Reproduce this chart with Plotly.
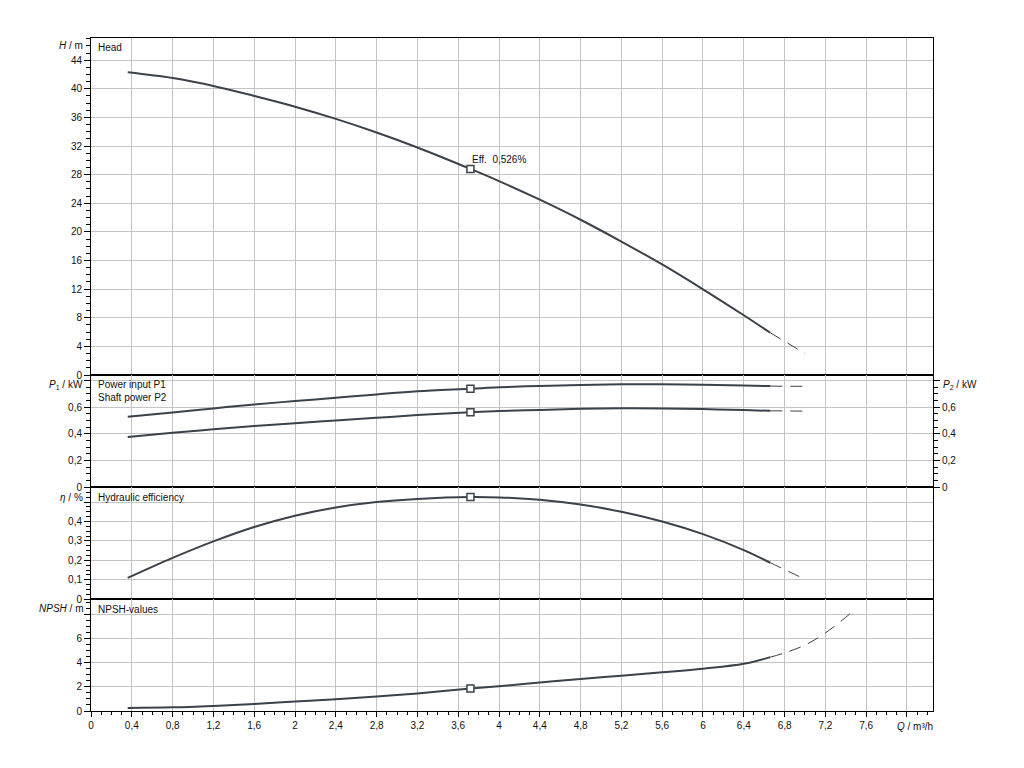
import plotly.graph_objects as go

# ---------------- data ----------------
Q = [0.36, 0.8, 1.2, 1.6, 2.0, 2.4, 2.8, 3.2, 3.72, 4.0, 4.4, 4.8, 5.2, 5.6, 6.0, 6.4, 6.66]
head = [42.3, 41.5, 40.4, 39.0, 37.5, 35.8, 33.9, 31.8, 28.8, 27.1, 24.5, 21.7, 18.65, 15.45, 11.98, 8.35, 5.9]
p1 = [0.528, 0.56, 0.59, 0.62, 0.645, 0.67, 0.695, 0.718, 0.737, 0.748, 0.758, 0.766, 0.770, 0.770, 0.767, 0.762, 0.757]
p2 = [0.376, 0.408, 0.434, 0.458, 0.48, 0.50, 0.52, 0.54, 0.562, 0.57, 0.579, 0.587, 0.591, 0.59, 0.585, 0.578, 0.572]
eff = [0.110, 0.213, 0.298, 0.372, 0.430, 0.472, 0.500, 0.516, 0.526, 0.524, 0.512, 0.487, 0.450, 0.400, 0.335, 0.253, 0.188]
npsh = [0.25, 0.3, 0.42, 0.58, 0.78, 0.98, 1.2, 1.45, 1.85, 2.05, 2.35, 2.65, 2.92, 3.2, 3.5, 3.9, 4.45]

Q_ext = [6.66, 7.0]
head_ext = [5.9, 3.0]
p1_ext = [0.757, 0.755]
p2_ext = [0.572, 0.57]
eff_ext = [0.188, 0.103]
Q_npsh_ext = [6.66, 6.8, 7.0, 7.2, 7.48]
npsh_ext = [4.45, 4.8, 5.45, 6.45, 8.3]

Q_op = 3.72
head_op, p1_op, p2_op, eff_op, npsh_op = 28.8, 0.737, 0.562, 0.526, 1.85

x_ticks = [round(0.4 * i, 1) for i in range(21)]
x_labels = [("%g" % v).replace(".", ",") for v in x_ticks[:-1]] + [""]
head_ticks = list(range(0, 48, 4))
p_ticks = [0, 0.2, 0.4, 0.6, 0.8]
p_labels = ["0", "0,2", "0,4", "0,6", ""]
eff_ticks = [0, 0.1, 0.2, 0.3, 0.4, 0.5]
eff_labels = ["0", "0,1", "0,2", "0,3", "0,4", ""]
npsh_ticks = [0, 2, 4, 6, 8]
npsh_labels = ["0", "2", "4", "6", ""]

# ---------------- layout helpers ----------------
OFF = 8                      # default page body margin
W, H = 1000, 748
L, R, T, B = 91, 933, 38, 711   # plot area in page pixels
def px_x(px):
    return (px - L) / (R - L)
def px_y(py):
    return (B - py) / (B - T)

LINE = "#3b424a"
FONT = "Arial, Liberation Sans, sans-serif"

fig = go.Figure()

def solid(x, y, xa, ya):
    fig.add_trace(go.Scatter(x=x, y=y, mode="lines", xaxis=xa, yaxis=ya,
                             line=dict(color=LINE, width=2, shape="spline", smoothing=1.0),
                             showlegend=False, hoverinfo="skip"))

def dashed(x, y, xa, ya):
    fig.add_trace(go.Scatter(x=x, y=y, mode="lines", xaxis=xa, yaxis=ya,
                             line=dict(color=LINE, width=1, dash="12px,8px", shape="spline"),
                             showlegend=False, hoverinfo="skip"))

def marker(x, y, xa, ya):
    fig.add_trace(go.Scatter(x=[x], y=[y], mode="markers", xaxis=xa, yaxis=ya,
                             marker=dict(symbol="square", size=7, color="white",
                                         line=dict(color=LINE, width=1.5)),
                             showlegend=False, hoverinfo="skip"))

solid(Q, head, "x", "y"); dashed(Q_ext, head_ext, "x", "y"); marker(Q_op, head_op, "x", "y")
solid(Q, p1, "x2", "y2"); dashed(Q_ext, p1_ext, "x2", "y2"); marker(Q_op, p1_op, "x2", "y2")
solid(Q, p2, "x2", "y2"); dashed(Q_ext, p2_ext, "x2", "y2"); marker(Q_op, p2_op, "x2", "y2")
solid(Q, eff, "x3", "y3"); dashed(Q_ext, eff_ext, "x3", "y3"); marker(Q_op, eff_op, "x3", "y3")
solid(Q, npsh, "x4", "y4"); dashed(Q_npsh_ext, npsh_ext, "x4", "y4"); marker(Q_op, npsh_op, "x4", "y4")

GRID = "#c4c4c4"
tickfont = dict(family=FONT, size=10, color="#111111")

def xaxis(anchor, show):
    d = dict(anchor=anchor, range=[0, 8.255], domain=[0, 1],
             tickmode="array", tickvals=x_ticks, ticktext=x_labels,
             showgrid=True, gridcolor=GRID, gridwidth=1, zeroline=False,
             showline=True, linecolor="black", linewidth=1, mirror=True,
             tickfont=tickfont)
    if show:
        d.update(ticks="outside", ticklen=5, tickcolor="black", showticklabels=True,
                 minor=dict(tickmode="linear", tick0=0, dtick=0.1, ticks="outside",
                            ticklen=3, tickcolor="black", showgrid=False))
    else:
        d.update(ticks="", showticklabels=False, matches="x4")
    return d

def yaxis(anchor, dom, rng, vals, labels, mdt, side="left", overlaying=None, grid=True):
    d = dict(anchor=anchor, domain=dom, range=rng, side=side,
             tickmode="array", tickvals=vals, ticktext=labels,
             showgrid=grid, gridcolor=GRID, gridwidth=1, zeroline=False,
             showline=True, linecolor="black", linewidth=1, mirror=True,
             ticks="outside", ticklen=6, tickcolor="black", tickfont=tickfont,
             minor=dict(tickmode="linear", tick0=0, dtick=mdt, ticks="outside",
                        ticklen=4, tickcolor="black", showgrid=False))
    if overlaying:
        d["overlaying"] = overlaying
        d["mirror"] = False
    return d

d_head = [px_y(375), 1]
d_pow = [px_y(487.3), px_y(375)]
d_eff = [px_y(599.3), px_y(487.3)]
d_npsh = [0, px_y(599.3)]

annotations = []
def label(text, px, py, xanchor="left", size=10):
    annotations.append(dict(text=text, x=px_x(px), y=px_y(py), xref="paper", yref="paper",
                            xanchor=xanchor, yanchor="middle", showarrow=False,
                            font=dict(family=FONT, size=size, color="#111111")))

label("<i>H</i> / m", 85, 46, "right")
label("<i>P</i><sub>1</sub> / kW", 85, 385.5, "right")
label("<i>η</i> / %", 85, 497, "right")
label("<i>NPSH</i> / m", 85, 608.5, "right")
label("<i>P</i><sub>2</sub> / kW", 941, 385.5, "left")
label("<i>Q</i> / m³/h", 935, 726, "right")
label("Head", 96, 48)
label("Power input P1", 96, 385)
label("Shaft power P2", 96, 397)
label("Hydraulic efficiency", 96, 497)
label("NPSH-values", 96, 609)
annotations.append(dict(text="Eff.&nbsp;&nbsp;0,526%", x=Q_op, y=head_op, xref="x", yref="y",
                        xanchor="left", yanchor="bottom", xshift=0, yshift=2, showarrow=False,
                        font=dict(family=FONT, size=10, color="#111111")))

fig.update_layout(
    width=W, height=H,
    margin=dict(l=L - OFF, r=W - (R - OFF), t=T - OFF, b=H - (B - OFF), pad=0),
    paper_bgcolor="white", plot_bgcolor="white",
    showlegend=False,
    font=dict(family=FONT, size=10, color="#111111"),
    xaxis=xaxis("y", False),
    xaxis2=xaxis("y2", False),
    xaxis3=xaxis("y3", False),
    xaxis4=xaxis("y4", True),
    yaxis=yaxis("x", d_head, [0, 47.1], head_ticks, [str(v) for v in head_ticks], 1),
    yaxis2=yaxis("x2", d_pow, [0, 0.84], p_ticks, p_labels, 0.05),
    yaxis3=yaxis("x3", d_eff, [0, 0.576], eff_ticks, eff_labels, 0.025),
    yaxis4=yaxis("x4", d_npsh, [0, 9.23], npsh_ticks, npsh_labels, 0.5),
    yaxis5=yaxis("x2", d_pow, [0, 0.84], p_ticks, p_labels, 0.05, side="right",
                 overlaying="y2", grid=False),
    annotations=annotations,
)

# invisible trace so the right-hand P2 axis is drawn
fig.add_trace(go.Scatter(x=[None], y=[None], xaxis="x2", yaxis="y5", showlegend=False))

fig.write_html("out.html")
